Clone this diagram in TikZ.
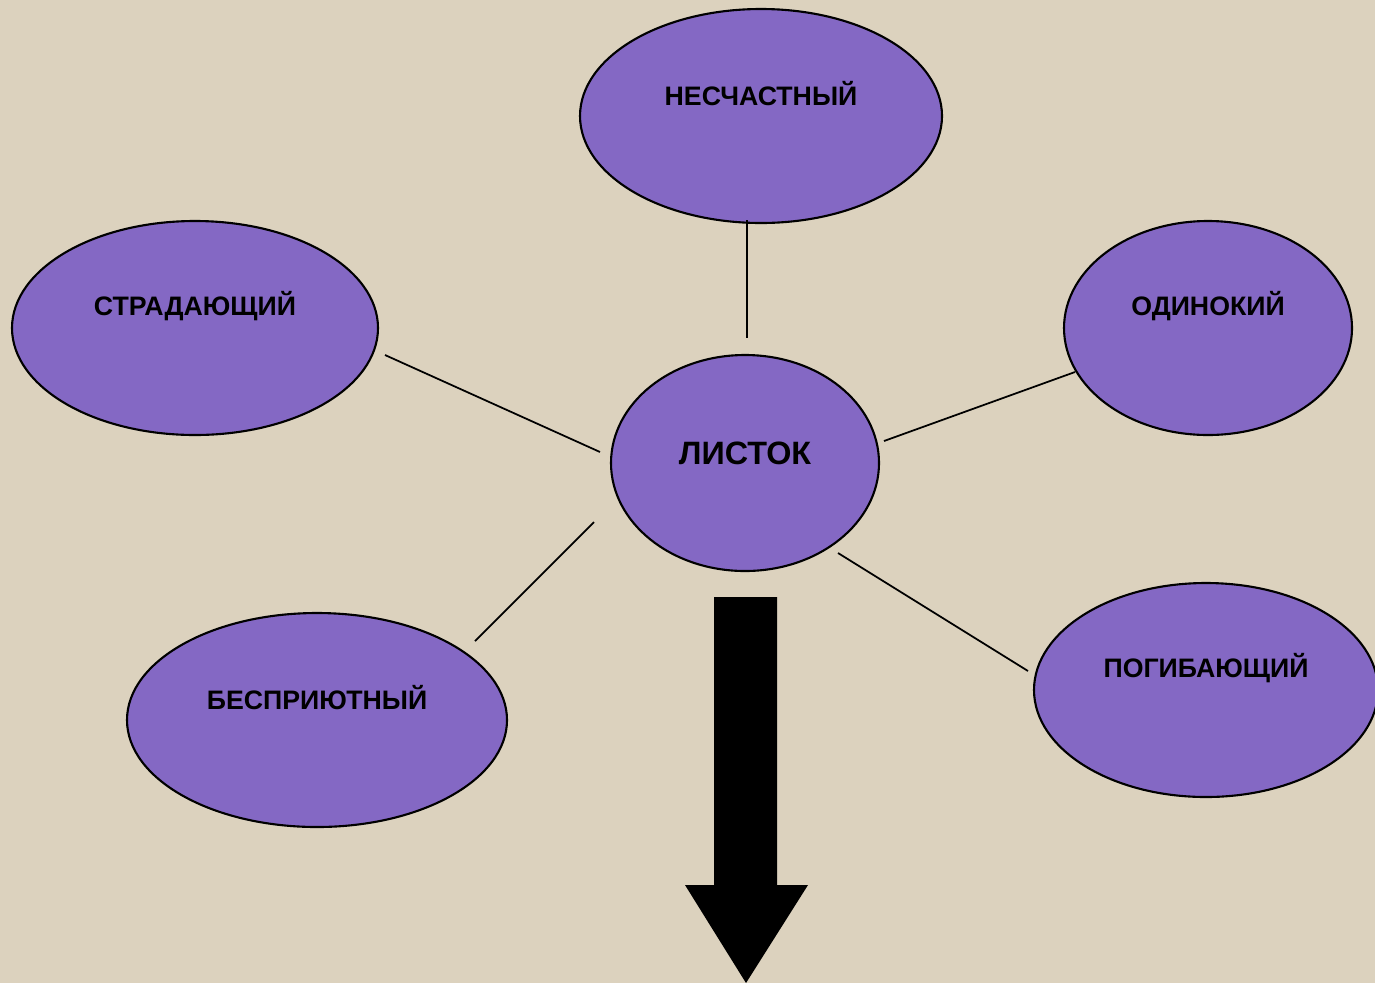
\documentclass[tikz,border=0pt]{standalone}
\usepackage{fontspec}
\setmainfont{Liberation Sans}
\usetikzlibrary{shapes.geometric}
\definecolor{linen}{HTML}{DCD2BE}
\definecolor{bubblefill}{HTML}{8468C4}
\tikzset{
  bubble/.style={ellipse, draw=black, fill=bubblefill, line width=0.6pt, inner sep=0pt},
  lbl/.style={font=\bfseries\fontsize{7.6}{9}\selectfont, yshift=2.2mm},
  link/.style={line width=0.5pt}
}
\begin{document}
\begin{tikzpicture}
			%%%%% BACKGROUND %%%%%
			\fill[linen] (0, 0) rectangle (13.75, 9.83);
			\useasboundingbox (0, 0) rectangle (13.75, 9.83);
			
			%%%%% BUBBLES %%%%%
			\node[bubble, minimum width=3.62cm, minimum height=2.14cm, label={[lbl]center:НЕСЧАСТНЫЙ}] (nes) at (7.61, 8.67) {};
			\node[bubble, minimum width=3.66cm, minimum height=2.14cm, label={[lbl]center:СТРАДАЮЩИЙ}] (str) at (1.95, 6.55) {};
			\node[bubble, minimum width=2.88cm, minimum height=2.14cm, label={[lbl]center:ОДИНОКИЙ}] (odi) at (12.08, 6.55) {};
			\node[bubble, minimum width=2.68cm, minimum height=2.16cm, label={[lbl, font=\bfseries\fontsize{9.2}{10}\selectfont, yshift=-1.2mm]center:ЛИСТОК}] (lis) at (7.45, 5.20) {};
			\node[bubble, minimum width=3.80cm, minimum height=2.14cm, label={[lbl]center:БЕСПРИЮТНЫЙ}] (bes) at (3.17, 2.63) {};
			\node[bubble, minimum width=3.44cm, minimum height=2.14cm, label={[lbl]center:ПОГИБАЮЩИЙ}] (pog) at (12.06, 2.93) {};
			
			%%%%% LINKS %%%%%
			\coordinate (nes-a) at (7.47, 7.63);
			\coordinate (nes-b) at (7.47, 6.45);
			\coordinate (str-a) at (3.85, 6.28);
			\coordinate (str-b) at (6.00, 5.31);
			\coordinate (odi-a) at (10.75, 6.11);
			\coordinate (odi-b) at (8.84, 5.42);
			\coordinate (bes-a) at (4.75, 3.42);
			\coordinate (bes-b) at (5.94, 4.61);
			\coordinate (pog-a) at (10.28, 3.12);
			\coordinate (pog-b) at (8.38, 4.30);
			
			\foreach \n in {nes, str, odi, bes, pog}
				\draw[link] (\n-a) -- (\n-b);
			
			%%%%% ARROW %%%%%
			\fill[black] (7.14, 3.86) -- (7.77, 3.86) -- (7.77, 0.98) -- (8.08, 0.98)
				-- (7.46, 0) -- (6.85, 0.98) -- (7.14, 0.98) -- cycle;
\end{tikzpicture}
\end{document}
